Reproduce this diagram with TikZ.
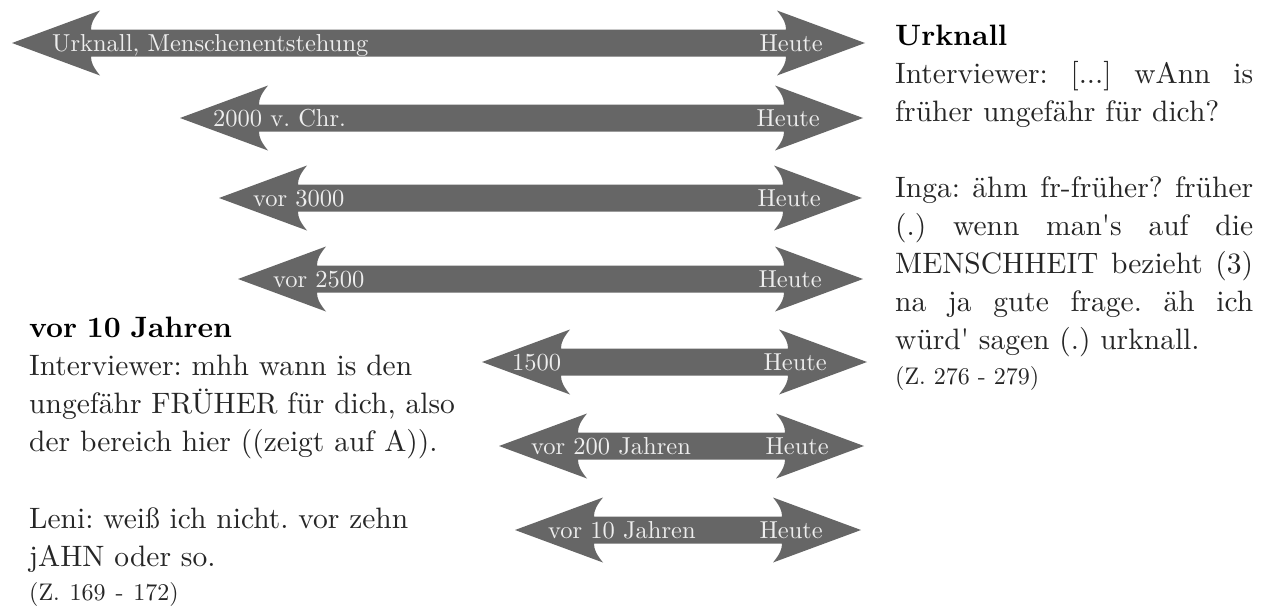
\documentclass[tikz,border=0pt]{standalone}
\usepackage{fontspec}
\setmainfont{lmroman10}[Extension=.otf, UprightFont=*-regular, BoldFont=*-bold, ItalicFont=*-italic, BoldItalicFont=*-bolditalic]
\frenchspacing
\definecolor{arrowgray}{HTML}{666666}
\definecolor{lblgray}{HTML}{EEEEEE}
\definecolor{bodytext}{HTML}{262626}
\tikzset{
  arrowfill/.style={fill=arrowgray},
  lbl/.style={text=lblgray, inner sep=0pt, font=\fontsize{24.5}{30}\selectfont},
  quotebox/.style={text=bodytext, inner sep=0pt, anchor=north west, font=\fontsize{29.5}{38}\selectfont}
}
\newcommand{\timearrow}[7]{%
  \fill[arrowfill] (#3,#2) -- ({#3+88},{#2-32.5})
    .. controls ({#3+81},{#2-24}) and ({#3+79},{#2-19}) .. ({#3+79},{#2-13.5})
    -- ({#4-79},{#2-13.5})
    .. controls ({#4-79},{#2-19}) and ({#4-81},{#2-24}) .. ({#4-88},{#2-32.5})
    -- (#4,#2) -- ({#4-88},{#2+32.5})
    .. controls ({#4-81},{#2+24}) and ({#4-79},{#2+19}) .. ({#4-79},{#2+13.5})
    -- ({#3+79},{#2+13.5})
    .. controls ({#3+79},{#2+19}) and ({#3+81},{#2+24}) .. ({#3+88},{#2+32.5})
    -- cycle;
  \node[lbl, anchor=base west] (#1-from) at (#5,{#2+8}) {#6};
  \node[lbl, anchor=base east] (#1-to) at (#7,{#2+8}) {Heute};
}
\begin{document}
\begin{tikzpicture}[x=1pt,y=-1pt]
\useasboundingbox (0,0) rectangle (1272,608);
\fill[white] (0,0) rectangle (1272,608);

\timearrow{a1}{43}{12}{865}{52}{Urknall, Menschenentstehung}{823}
\timearrow{a2}{118}{180}{863}{213}{2000 v. Chr.}{820}
\timearrow{a3}{198}{219}{862}{253}{vor 3000}{821}
\timearrow{a4}{279}{238}{863}{273}{vor 2500}{822}
\timearrow{a5}{362}{482}{867}{512}{1500}{827}
\timearrow{a6}{446}{499}{864}{531}{vor 200 Jahren}{829}
\timearrow{a7}{530}{515}{861}{548}{vor 10 Jahren}{823}

\node[quotebox, text width=358pt, align=justify] (urknall) at (895,24.5) {%
  {\color{black}\bfseries Urknall}\par
  Interviewer: [...] wAnn is\linebreak früher ungefähr für dich?\par
  \vskip 38pt
  Inga: ähm \mbox{fr-früher?} früher\linebreak (.) wenn man\textquotesingle s auf die\linebreak MENSCHHEIT bezieht (3)\linebreak na ja gute frage. äh ich\linebreak würd\textquotesingle{} sagen (.) urknall.\par
  {\fontsize{24}{35}\selectfont (Z. 276 - 279)\par}};

\node[quotebox, text width=460pt, align=left] (vor10) at (29,316.5) {%
  {\color{black}\bfseries vor 10 Jahren}\\
  Interviewer: mhh wann is den\\
  ungefähr FRÜHER für dich, also\\
  der bereich hier ((zeigt auf A)).\\[39pt]
  Leni: weiß ich nicht. vor zehn\\
  jAHN oder so.\\[-4pt]
  {\fontsize{24}{35}\selectfont (Z. 169 - 172)}};
\end{tikzpicture}
\end{document}
